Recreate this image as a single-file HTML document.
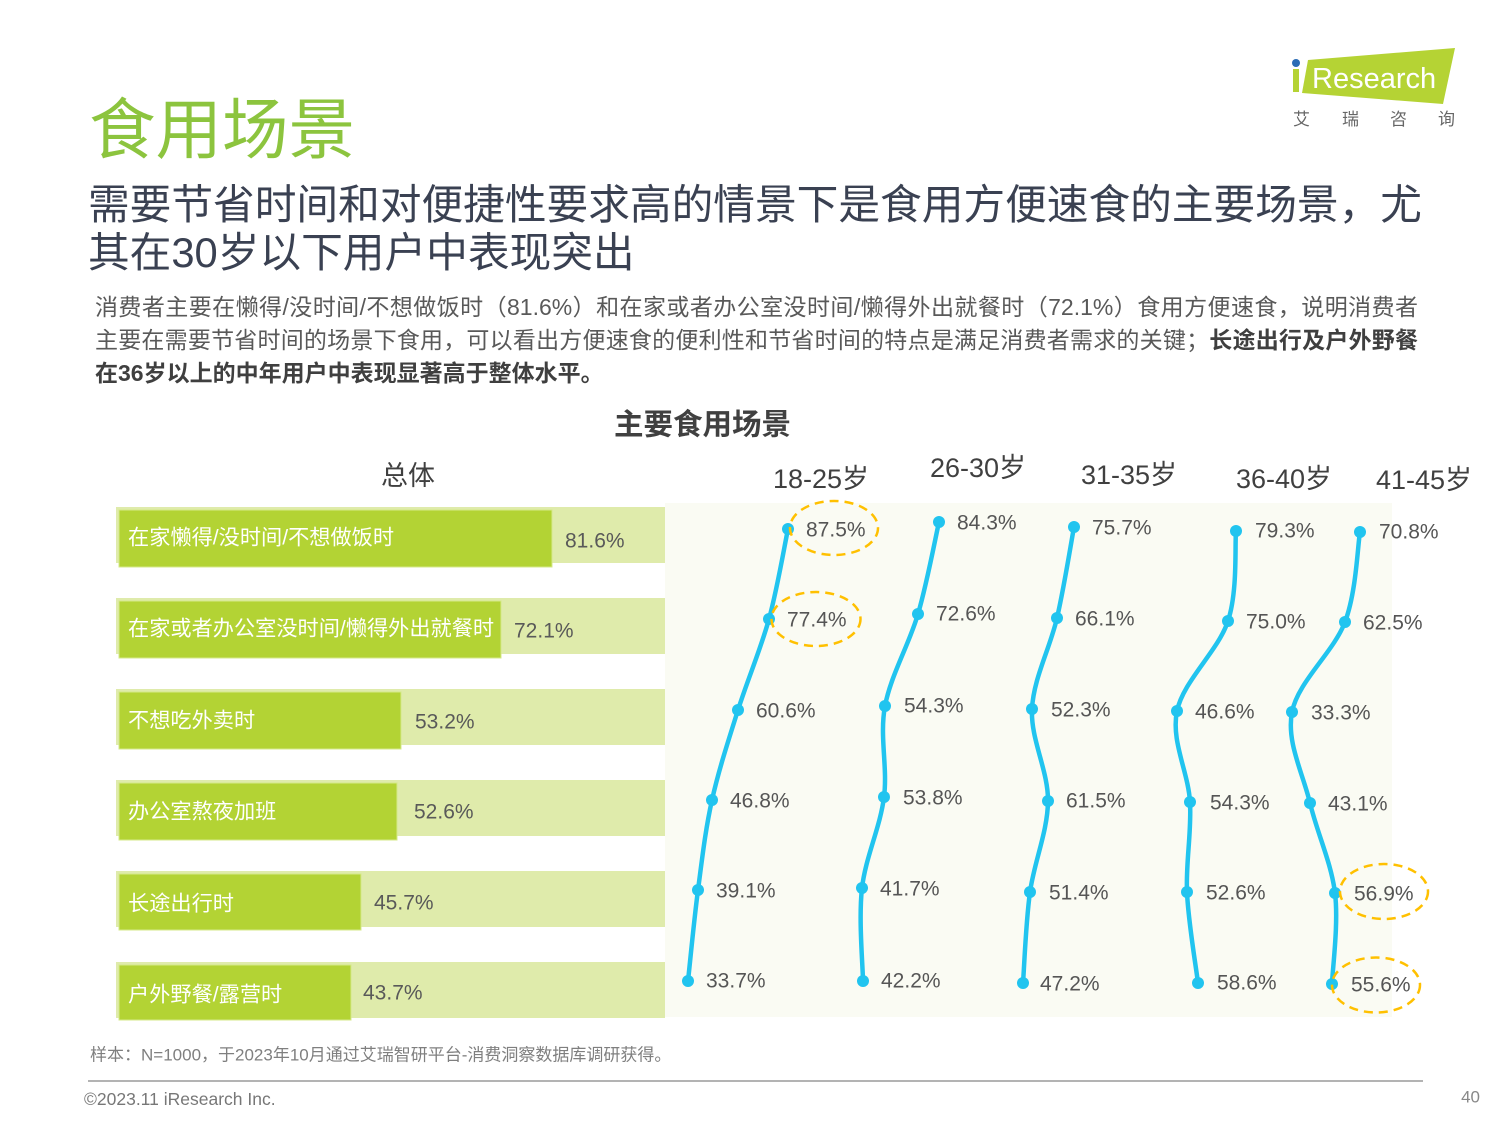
<!DOCTYPE html>
<html><head><meta charset="utf-8">
<style>
html,body{margin:0;padding:0;background:#fff;}
body{width:1500px;height:1125px;position:relative;overflow:hidden;font-family:"Liberation Sans","Noto Sans CJK SC",sans-serif;}
.abs{position:absolute;white-space:nowrap;}
#t1{left:89px;top:92px;font-size:66.5px;line-height:66px;color:#8CC43E;font-family:"Noto Sans CJK SC","Liberation Sans",sans-serif;}
#t2{left:88px;top:181px;font-size:41.7px;line-height:48px;color:#3A4152;font-family:"Liberation Sans","Noto Sans CJK SC",sans-serif;white-space:normal;width:1380px;}
.bl{position:absolute;left:95px;width:1323px;font-size:23px;line-height:33px;height:33px;color:#595959;text-align:justify;text-align-last:justify;white-space:nowrap;font-family:"Liberation Sans","Noto Sans CJK SC",sans-serif;}
.bl b{color:#3f3f3f;}
svg{position:absolute;left:0;top:0;}
</style></head><body>

<div class="abs" id="t1">食用场景</div>
<div class="abs" id="t2">需要节省时间和对便捷性要求高的情景下是食用方便速食的主要场景，尤<br>其在30岁以下用户中表现突出</div>

<div class="bl" style="top:291px;">消费者主要在懒得/没时间/不想做饭时（81.6%）和在家或者办公室没时间/懒得外出就餐时（72.1%）食用方便速食，说明消费者</div>
<div class="bl" style="top:324px;">主要在需要节省时间的场景下食用，可以看出方便速食的便利性和节省时间的特点是满足消费者需求的关键；<b>长途出行及户外野餐</b></div>
<div class="bl" style="top:357px;text-align:left;text-align-last:left;"><b>在36岁以上的中年用户中表现显著高于整体水平。</b></div>

<svg width="1500" height="1125" viewBox="0 0 1500 1125" xmlns="http://www.w3.org/2000/svg" font-family="Liberation Sans, Noto Sans CJK SC, sans-serif">
  <!-- logo -->
  <polygon points="1308,60 1455,48 1443,104 1302,93" fill="#B5D334"/>
  <rect x="1293" y="69" width="6" height="23" fill="#B5D334"/>
  <circle cx="1296" cy="63" r="4" fill="#2B6CB5"/>
  <text x="1312" y="88" font-size="29" fill="#ffffff">Research</text>
  <g font-size="17" fill="#666" font-family="Noto Sans CJK SC, sans-serif">
    <text x="1293" y="125">艾</text>
    <text x="1342" y="125">瑞</text>
    <text x="1390" y="125">咨</text>
    <text x="1438" y="125">询</text>
  </g>

  <!-- chart title -->
  <text x="614" y="425" font-size="29.5" font-weight="bold" fill="#404040" dominant-baseline="central">主要食用场景</text>

  <!-- headers -->
  <g font-size="27" fill="#404040" dominant-baseline="central">
    <text x="381" y="476">总体</text>
    <text x="773" y="479">18-25岁</text>
    <text x="930" y="468">26-30岁</text>
    <text x="1081" y="475">31-35岁</text>
    <text x="1236" y="479">36-40岁</text>
    <text x="1376" y="480">41-45岁</text>
  </g>

  <!-- panel -->
  <rect x="665" y="503" width="727" height="514" fill="#FAFBF3"/>

  <!-- bars -->
  <g>
    <rect x="116" y="507" width="549" height="56" fill="#DFEBAB"/>
    <rect x="119" y="510" width="433" height="57" fill="#B3D334" stroke="#D5E88A" stroke-width="1"/>
    <rect x="116" y="598" width="549" height="56" fill="#DFEBAB"/>
    <rect x="119" y="601" width="382" height="57" fill="#B3D334" stroke="#D5E88A" stroke-width="1"/>
    <rect x="116" y="689" width="549" height="56" fill="#DFEBAB"/>
    <rect x="119" y="692" width="282" height="57" fill="#B3D334" stroke="#D5E88A" stroke-width="1"/>
    <rect x="116" y="780" width="549" height="56" fill="#DFEBAB"/>
    <rect x="119" y="783" width="278" height="57" fill="#B3D334" stroke="#D5E88A" stroke-width="1"/>
    <rect x="116" y="871" width="549" height="56" fill="#DFEBAB"/>
    <rect x="119" y="874" width="242" height="56" fill="#B3D334" stroke="#D5E88A" stroke-width="1"/>
    <rect x="116" y="962" width="549" height="56" fill="#DFEBAB"/>
    <rect x="119" y="965" width="232" height="55" fill="#B3D334" stroke="#D5E88A" stroke-width="1"/>
  </g>
  <g font-size="21.2" fill="#ffffff" dominant-baseline="central">
    <text x="128" y="538">在家懒得/没时间/不想做饭时</text>
    <text x="128" y="629">在家或者办公室没时间/懒得外出就餐时</text>
    <text x="128" y="721">不想吃外卖时</text>
    <text x="128" y="812">办公室熬夜加班</text>
    <text x="128" y="904">长途出行时</text>
    <text x="128" y="995">户外野餐/露营时</text>
  </g>
  <g font-size="21" fill="#595959" dominant-baseline="central">
    <text x="565" y="541">81.6%</text>
    <text x="514" y="631">72.1%</text>
    <text x="415" y="722">53.2%</text>
    <text x="414" y="812">52.6%</text>
    <text x="374" y="903">45.7%</text>
    <text x="363" y="993">43.7%</text>
  </g>

  <!-- curves -->
  <g fill="none" stroke="#21C4EF" stroke-width="4.5" stroke-linecap="round">
    <path d="M788,529 C784.8,544 777.3,588.8 769,619 C760.7,649.2 747.5,679.8 738,710 C728.5,740.2 718.7,770 712,800 C705.3,830 702,859.8 698,890 C694,920.2 689.7,965.8 688,981"/>
    <path d="M939,522 C935.5,537.3 927,583.3 918,614 C909,644.7 890.7,675.5 885,706 C879.3,736.5 887.8,766.7 884,797 C880.2,827.3 865.5,857.3 862,888 C858.5,918.7 862.8,965.5 863,981"/>
    <path d="M1074,527 C1071.2,542.2 1064,587.7 1057,618 C1050,648.3 1033.5,678.5 1032,709 C1030.5,739.5 1048.3,770.5 1048,801 C1047.7,831.5 1034.2,861.7 1030,892 C1025.8,922.3 1024.2,967.8 1023,983"/>
    <path d="M1236,531 C1234.7,546 1237.8,591 1228,621 C1218.2,651 1183.3,680.8 1177,711 C1170.7,741.2 1188.3,771.8 1190,802 C1191.7,832.2 1185.7,861.8 1187,892 C1188.3,922.2 1196.2,967.8 1198,983"/>
    <path d="M1360,532 C1357.5,547 1356.3,592 1345,622 C1333.7,652 1297.8,681.8 1292,712 C1286.2,742.2 1302.8,772.8 1310,803 C1317.2,833.2 1331.3,862.8 1335,893 C1338.7,923.2 1332.5,968.8 1332,984"/>
  </g>
  <g fill="#21C4EF">
    <circle cx="788" cy="529" r="6"/><circle cx="769" cy="619" r="6"/><circle cx="738" cy="710" r="6"/><circle cx="712" cy="800" r="6"/><circle cx="698" cy="890" r="6"/><circle cx="688" cy="981" r="6"/>
    <circle cx="939" cy="522" r="6"/><circle cx="918" cy="614" r="6"/><circle cx="885" cy="706" r="6"/><circle cx="884" cy="797" r="6"/><circle cx="862" cy="888" r="6"/><circle cx="863" cy="981" r="6"/>
    <circle cx="1074" cy="527" r="6"/><circle cx="1057" cy="618" r="6"/><circle cx="1032" cy="709" r="6"/><circle cx="1048" cy="801" r="6"/><circle cx="1030" cy="892" r="6"/><circle cx="1023" cy="983" r="6"/>
    <circle cx="1236" cy="531" r="6"/><circle cx="1228" cy="621" r="6"/><circle cx="1177" cy="711" r="6"/><circle cx="1190" cy="802" r="6"/><circle cx="1187" cy="892" r="6"/><circle cx="1198" cy="983" r="6"/>
    <circle cx="1360" cy="532" r="6"/><circle cx="1345" cy="622" r="6"/><circle cx="1292" cy="712" r="6"/><circle cx="1310" cy="803" r="6"/><circle cx="1335" cy="893" r="6"/><circle cx="1332" cy="984" r="6"/>
  </g>

  <!-- dashed ellipses -->
  <g fill="none" stroke="#FFC000" stroke-width="2.5" stroke-dasharray="9,6">
    <ellipse cx="834" cy="528" rx="44" ry="27"/>
    <ellipse cx="816" cy="619" rx="44.5" ry="27"/>
    <ellipse cx="1384" cy="891.5" rx="44" ry="27.5"/>
    <ellipse cx="1376" cy="985" rx="44" ry="27.5"/>
  </g>

  <!-- point labels -->
  <g font-size="21" fill="#555555" dominant-baseline="central">
    <text x="806" y="530">87.5%</text>
    <text x="787" y="620">77.4%</text>
    <text x="756" y="711">60.6%</text>
    <text x="730" y="801">46.8%</text>
    <text x="716" y="891">39.1%</text>
    <text x="706" y="981">33.7%</text>

    <text x="957" y="523">84.3%</text>
    <text x="936" y="614">72.6%</text>
    <text x="904" y="706">54.3%</text>
    <text x="903" y="798">53.8%</text>
    <text x="880" y="889">41.7%</text>
    <text x="881" y="981">42.2%</text>

    <text x="1092" y="528">75.7%</text>
    <text x="1075" y="619">66.1%</text>
    <text x="1051" y="710">52.3%</text>
    <text x="1066" y="801">61.5%</text>
    <text x="1049" y="893">51.4%</text>
    <text x="1040" y="984">47.2%</text>

    <text x="1255" y="531">79.3%</text>
    <text x="1246" y="622">75.0%</text>
    <text x="1195" y="712">46.6%</text>
    <text x="1210" y="803">54.3%</text>
    <text x="1206" y="893">52.6%</text>
    <text x="1217" y="983">58.6%</text>

    <text x="1379" y="532">70.8%</text>
    <text x="1363" y="623">62.5%</text>
    <text x="1311" y="713">33.3%</text>
    <text x="1328" y="804">43.1%</text>
    <text x="1354" y="894">56.9%</text>
    <text x="1351" y="985">55.6%</text>
  </g>

  <!-- footer -->
  <text x="90" y="1055" font-size="17" fill="#7F7F7F" dominant-baseline="central">样本：N=1000，于2023年10月通过艾瑞智研平台-消费洞察数据库调研获得。</text>
  <line x1="88" y1="1081" x2="1423" y2="1081" stroke="#9a9a9a" stroke-width="1.5"/>
  <text x="84" y="1099" font-size="17.5" fill="#777" dominant-baseline="central">©2023.11 iResearch Inc.</text>
  <text x="1480" y="1097" font-size="17" fill="#888" text-anchor="end" dominant-baseline="central">40</text>
</svg>
</body></html>
